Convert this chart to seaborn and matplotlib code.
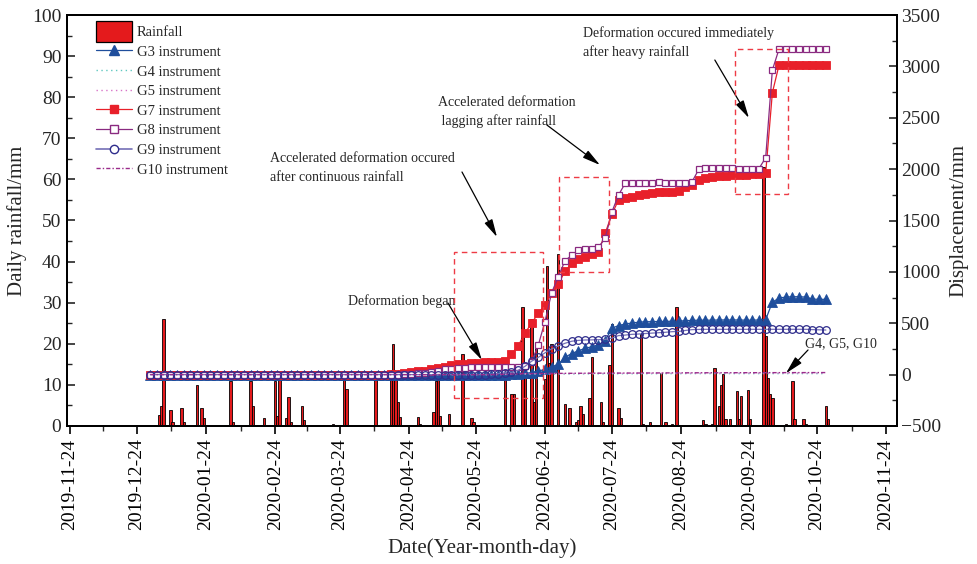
import numpy as np
import pandas as pd
import matplotlib
matplotlib.use('Agg')
import matplotlib.pyplot as plt
import matplotlib.dates as mdates
from matplotlib.patches import Rectangle, Patch
from matplotlib.lines import Line2D
from matplotlib.legend_handler import HandlerPatch
from matplotlib.ticker import MultipleLocator, FixedLocator
import seaborn as sns

# ---------------- data ----------------
rain_dates = [
    '2020-01-03', '2020-01-04', '2020-01-05', '2020-01-08', '2020-01-09', '2020-01-13', '2020-01-14',
    '2020-01-20', '2020-01-22', '2020-01-23', '2020-02-04', '2020-02-05', '2020-02-13', '2020-02-14',
    '2020-02-19', '2020-02-24', '2020-02-25', '2020-02-26', '2020-02-29', '2020-03-01', '2020-03-02',
    '2020-03-07', '2020-03-08', '2020-03-21', '2020-03-26', '2020-03-27', '2020-04-09', '2020-04-16',
    '2020-04-17', '2020-04-18', '2020-04-19', '2020-04-20', '2020-04-28', '2020-04-29', '2020-05-05',
    '2020-05-06', '2020-05-07', '2020-05-08', '2020-05-12', '2020-05-18', '2020-05-22', '2020-05-23',
    '2020-06-06', '2020-06-09', '2020-06-10', '2020-06-14', '2020-06-15', '2020-06-18', '2020-06-19',
    '2020-06-20', '2020-06-24', '2020-06-25', '2020-06-26', '2020-06-27', '2020-06-30', '2020-07-03',
    '2020-07-05', '2020-07-08', '2020-07-09', '2020-07-10', '2020-07-11', '2020-07-14', '2020-07-15',
    '2020-07-19', '2020-07-20', '2020-07-23', '2020-07-24', '2020-07-27', '2020-07-28', '2020-08-06',
    '2020-08-07', '2020-08-10', '2020-08-15', '2020-08-17', '2020-08-20', '2020-08-22', '2020-09-03',
    '2020-09-04', '2020-09-07', '2020-09-08', '2020-09-10', '2020-09-11', '2020-09-12', '2020-09-13',
    '2020-09-15', '2020-09-18', '2020-09-19', '2020-09-20', '2020-09-23', '2020-09-24', '2020-09-30',
    '2020-10-01', '2020-10-02', '2020-10-03', '2020-10-04', '2020-10-10', '2020-10-13', '2020-10-14',
    '2020-10-18', '2020-10-19', '2020-10-28', '2020-10-29']
rain_mm = [
    2.7, 4.9, 26.0, 3.9, 1.0, 4.4, 1.0,
    9.9, 4.4, 1.9, 10.9, 1.0, 10.9, 4.9,
    1.9, 10.9, 2.4, 12.3, 1.9, 7.0, 1.0,
    4.9, 1.5, 0.5, 11.8, 8.9, 11.8, 11.8,
    19.9, 13.4, 5.8, 2.1, 2.1, 0.5, 3.4,
    10.9, 13.4, 2.4, 2.9, 17.4, 1.9, 1.0,
    11.8, 7.8, 7.8, 28.9, 12.0, 26.0, 5.9,
    20.0, 11.5, 38.9, 15.4, 20.0, 41.8, 5.4,
    4.3, 1.0, 1.5, 4.9, 2.9, 6.9, 16.9,
    5.9, 0.9, 14.8, 24.8, 4.3, 1.9, 22.4,
    0.5, 0.9, 13.0, 0.9, 0.6, 28.9, 1.4,
    0.4, 0.4, 14.0, 4.9, 9.9, 12.7, 1.8,
    1.8, 8.5, 1.8, 7.3, 8.8, 1.8, 63.0,
    21.8, 11.8, 7.9, 6.8, 0.4, 10.9, 1.8,
    1.8, 0.4, 4.9, 1.8]

# displacement readings every 3 days from 2019-12-30 to 2020-10-28 (102 readings)
disp_dates = pd.date_range('2019-12-30', periods=102, freq='3D')

g3 = [
    0, 0, 0, 0, 0, 0, 0, 0, 0, 0, 0, 0, 0, 0, 0, 0, 0, 0, 0, 0,
    0, 0, 0, 0, 0, 0, 0, 0, 0, 0, 0, 0, 0, 0, 0, 0, 0, 0, 0, 0,
    0, 0, 0, 0, 0, 0, 0, 0, 0, 0, 0, 0, 0, 0,
    3, 6, 12, 20, 35, 50, 75, 100, 170, 205, 232, 255, 272, 290, 330, 450,
    478, 492, 503, 510, 515, 515, 518, 518, 520, 520, 525, 528, 530, 530, 530, 532,
    532, 532, 532, 530, 530, 532, 535, 705, 745, 755, 758, 758, 755, 735, 733, 733]

g7 = [
    0, 0, 0, 0, 0, 0, 0, 0, 0, 0, 0, 0, 0, 0, 0, 0, 0, 0, 0, 0,
    0, 0, 0, 0, 0, 0, 0, 0, 0, 0, 0, 0, 0, 0, 0, 0,
    3, 10, 18, 25, 32, 40, 50, 60, 75, 90, 100, 108, 113, 117, 120, 123, 126, 136,
    201, 280, 402, 500, 597, 678, 790, 882, 1006, 1083, 1128, 1148, 1171, 1196, 1375, 1560,
    1699, 1716, 1732, 1750, 1760, 1768, 1774, 1778, 1780, 1787, 1823, 1850, 1894, 1915, 1924, 1930,
    1935, 1938, 1942, 1945, 1950, 1953, 1960, 2744, 3013,
    3013, 3013, 3013, 3013, 3013, 3013, 3013]

g8 = [
    0, 0, 0, 0, 0, 0, 0, 0, 0, 0, 0, 0, 0, 0, 0, 0, 0, 0, 0, 0,
    0, 0, 0, 0, 0, 0, 0, 0, 0, 0, 0, 0, 0, 0, 0, 0, 0, 0,
    5, 10, 13, 18, 28, 40, 50, 55, 62, 68, 72, 74, 76, 77, 77, 77, 77, 78,
    85, 126, 285, 515, 797, 953, 1109, 1160, 1210, 1219, 1222, 1239, 1327, 1582, 1748, 1862,
    1866, 1868, 1868, 1866, 1870, 1862, 1862, 1866, 1868, 1878, 1998, 2008, 2008, 2008, 2008, 2008,
    2005, 2003, 2006, 2006, 2111, 2964, 3169,
    3169, 3169, 3169, 3169, 3169, 3169, 3169]

g9 = [
    0, 0, 0, 0, 0, 0, 0, 0, 0, 0, 0, 0, 0, 0, 0, 0, 0, 0, 0, 0,
    0, 0, 0, 0, 0, 0, 0, 0, 0, 0, 0, 0, 0, 0, 0, 0, 0, 0, 0, 0,
    0, 0, 0, 0, 0, 0, 0, 0, 0, 0, 0,
    5, 10, 18, 22, 42, 80, 130, 168, 212, 250, 280, 305, 325, 333, 337, 338,
    340, 343, 355, 380, 385, 392, 395, 400, 404, 408, 412, 418, 420, 430, 438, 440,
    441, 441, 441, 441, 441, 441, 441, 441, 441, 441, 441, 441, 441, 441, 441, 441,
    438, 436, 434]

aux_dates = pd.to_datetime(['2019-12-30', '2020-06-01', '2020-06-15', '2020-07-15',
                            '2020-09-01', '2020-10-28'])
g4 = [0, 0, 5, 8, 10, 10]
g5 = [0, 0, 8, 12, 15, 16]
g10 = [0, 0, 10, 14, 18, 20]

xtick_dates = ['2019-11-24', '2019-12-24', '2020-01-24', '2020-02-24', '2020-03-24',
               '2020-04-24', '2020-05-24', '2020-06-24', '2020-07-24', '2020-08-24',
               '2020-09-24', '2020-10-24', '2020-11-24']

# ---------------- style ----------------
sns.set_theme(style='ticks')
plt.rcParams['font.family'] = ['Liberation Serif', 'DejaVu Serif']

C_RAIN = '#e41a1c'
C_G3 = '#1f4e9c'
C_G4 = '#5ec8c0'
C_G5 = '#d874c8'
C_G7 = '#e8202a'
C_G8 = '#8a2a80'
C_G9_LINE = '#7470b6'
C_G9_MK = '#2f2d8c'
C_G10 = '#9a2a8a'
C_BOX = '#ee3b45'

fig = plt.figure(figsize=(9.78, 5.64), dpi=100)
ax1 = fig.add_axes([67 / 978, 138 / 564, 830 / 978, 411 / 564])
ax2 = ax1.twinx()

# rainfall bars
rd = pd.to_datetime(rain_dates)
ax1.bar(rd, rain_mm, width=1.05, color=C_RAIN, edgecolor='black', linewidth=0.6, zorder=2)

# displacement series
common = dict(ax=ax2, legend=False, linewidth=0.9)
sns.lineplot(x=disp_dates, y=g3, color=C_G3, marker='^', markersize=6.5,
             markerfacecolor=C_G3, markeredgecolor=C_G3, markeredgewidth=0.6, **common)
sns.lineplot(x=aux_dates, y=g4, color=C_G4, linestyle=(0, (1, 2.5)), ax=ax2, legend=False, linewidth=1.0)
sns.lineplot(x=aux_dates, y=g5, color=C_G5, linestyle=(0, (1, 2.5)), ax=ax2, legend=False, linewidth=1.0)
sns.lineplot(x=disp_dates, y=g7, color=C_G7, marker='s', markersize=5.2,
             markerfacecolor=C_G7, markeredgecolor=C_G7, markeredgewidth=0.6, **common)
sns.lineplot(x=disp_dates, y=g8, color=C_G8, marker='s', markersize=4.8,
             markerfacecolor='white', markeredgecolor=C_G8, markeredgewidth=0.9, **common)
sns.lineplot(x=disp_dates, y=g9, color=C_G9_LINE, marker='o', markersize=5.5,
             markerfacecolor='none', markeredgecolor=C_G9_MK, markeredgewidth=0.9, **common)
sns.lineplot(x=aux_dates, y=g10, color=C_G10, linestyle=(0, (3, 1.5, 1, 1.5)), ax=ax2, legend=False, linewidth=1.0)

# ---------------- axes ----------------
base = pd.Timestamp('2019-11-24')
ax1.set_xlim(base - pd.Timedelta(days=1.35), base + pd.Timedelta(days=370.9))
ax1.set_ylim(0, 100)
ax2.set_ylim(-500, 3500)

major = [mdates.date2num(pd.Timestamp(d)) for d in xtick_dates]
minor = [(a + b) / 2 for a, b in zip(major[:-1], major[1:])]
ax1.xaxis.set_major_locator(FixedLocator(major))
ax1.xaxis.set_minor_locator(FixedLocator(minor))
ax1.xaxis.set_major_formatter(mdates.DateFormatter('%Y-%m-%d'))
ax1.yaxis.set_major_locator(MultipleLocator(10))
ax1.yaxis.set_minor_locator(MultipleLocator(5))
ax2.yaxis.set_major_locator(MultipleLocator(500))
ax2.yaxis.set_minor_locator(MultipleLocator(250))

for lab in ax1.get_xticklabels():
    lab.set_rotation(90)

ax1.tick_params(axis='x', which='major', direction='out', length=6, width=1.2, labelsize=14, pad=3, colors='black')
ax1.tick_params(axis='x', which='minor', direction='out', length=3.5, width=1.0)
ax1.tick_params(axis='y', which='major', direction='in', length=6, width=1.2, labelsize=14, pad=4)
ax1.tick_params(axis='y', which='minor', direction='in', length=3.5, width=1.0)
ax2.tick_params(axis='y', which='major', direction='in', length=6, width=1.2, labelsize=14, pad=3)
ax2.tick_params(axis='y', which='minor', direction='in', length=3.5, width=1.0)

for ax in (ax1, ax2):
    for s in ax.spines.values():
        s.set_visible(True)
        s.set_color('black')
        s.set_linewidth(1.4)

ax1.set_xlabel('Date(Year-month-day)', fontsize=15, labelpad=6)
ax1.set_ylabel('Daily rainfall/mm', fontsize=15, labelpad=4)
ax2.set_ylabel('Displacement/mm', fontsize=15, labelpad=6)
ax1.grid(False)
ax2.grid(False)

# ---------------- annotations ----------------
def dn(days):
    return mdates.date2num(base + pd.Timedelta(days=days))

afs = 10
arrow = dict(arrowstyle='-|>,head_length=0.9,head_width=0.22', color='black', lw=0.9,
             shrinkA=0, shrinkB=0)

ax2.text(dn(124.7), 716, 'Deformation began', fontsize=afs, ha='left', va='center')
ax2.annotate('', xy=(dn(184.7), 142), xytext=(dn(169.5), 697), arrowprops=arrow)

ax2.text(dn(89.7), 2011, 'Accelerated deformation occured\nafter continuous rainfall',
         fontsize=afs, ha='left', va='center', linespacing=1.55)
ax2.annotate('', xy=(dn(191.5), 1339), xytext=(dn(175.8), 1972), arrowprops=arrow)

ax2.text(dn(165.0), 2556, 'Accelerated deformation\n lagging after rainfall',
         fontsize=afs, ha='left', va='center', linespacing=1.5)
ax2.annotate('', xy=(dn(237.7), 2040), xytext=(dn(213.9), 2429), arrowprops=arrow)

ax2.text(dn(230.0), 3232, 'Deformation occured immediately\nafter heavy rainfall',
         fontsize=afs, ha='left', va='center', linespacing=1.45)
ax2.annotate('', xy=(dn(304.5), 2497), xytext=(dn(289.2), 3062), arrowprops=arrow)

ax2.text(dn(329.6), 298, 'G4, G5, G10', fontsize=afs, ha='left', va='center')
ax2.annotate('', xy=(dn(321.1), 13), xytext=(dn(331.0), 240), arrowprops=arrow)

for d0, d1, v0, v1 in [(172.3, 212.0, -230, 1196), (219.4, 241.7, 1002, 1920), (298.2, 322.1, 1758, 3169)]:
    ax2.add_patch(Rectangle((dn(d0), v0), dn(d1) - dn(d0), v1 - v0, fill=False,
                            edgecolor=C_BOX, linestyle=(0, (4, 3)), linewidth=1.0, zorder=5))

# ---------------- legend ----------------
def tall_patch(legend, orig_handle, xdescent, ydescent, width, height, fontsize):
    return Rectangle((-xdescent, -ydescent - 0.35 * height), width, 1.7 * height)

handles = [
    Patch(facecolor=C_RAIN, edgecolor='black', linewidth=0.9),
    Line2D([], [], color=C_G3, marker='^', markersize=7, markerfacecolor=C_G3, markeredgecolor=C_G3, lw=0.9),
    Line2D([], [], color=C_G4, linestyle=(0, (1, 2.5)), lw=1.0),
    Line2D([], [], color=C_G5, linestyle=(0, (1, 2.5)), lw=1.0),
    Line2D([], [], color=C_G7, marker='s', markersize=6, markerfacecolor=C_G7, markeredgecolor=C_G7, lw=0.9),
    Line2D([], [], color=C_G8, marker='s', markersize=5.5, markerfacecolor='white', markeredgecolor=C_G8, lw=0.9),
    Line2D([], [], color=C_G9_LINE, marker='o', markersize=6, markerfacecolor='white', markeredgecolor=C_G9_MK, lw=1.2),
    Line2D([], [], color=C_G10, linestyle=(0, (3, 1.5, 1, 1.5)), lw=1.0),
]
labels = ['Rainfall', 'G3 instrument', 'G4 instrument', 'G5 instrument', 'G7 instrument',
          'G8 instrument', 'G9 instrument', 'G10 instrument']
ax2.legend(handles, labels, loc='upper left', bbox_to_anchor=(0.035, 0.975), frameon=False,
           fontsize=10.5, handlelength=2.45, handletextpad=0.35, labelspacing=0.38,
           borderpad=0, borderaxespad=0, handleheight=0.9,
           handler_map={Patch: HandlerPatch(patch_func=tall_patch)})

fig.savefig('out.png', dpi=100)
